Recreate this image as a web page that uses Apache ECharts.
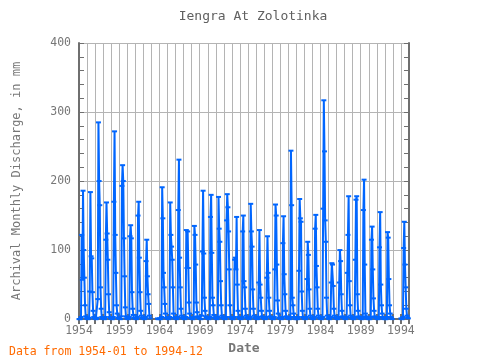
<!DOCTYPE html>
<html>
<head>
<meta charset="utf-8">
<script src="https://cdn.jsdelivr.net/npm/echarts@6/dist/echarts.min.js"></script>
<style>html,body{margin:0;padding:0;background:#fff}#c{width:480px;height:360px}</style>
</head>
<body>
<div id="c"></div>
<script>
// Monthly discharge (mm), Jan..Dec for each year; null = missing
const years = [1954,1955,1956,1957,1958,1959,1960,1961,1962,1963,1964,1965,1966,1967,1968,1969,1970,1971,1972,1973,1974,1975,1976,1977,1978,1979,1980,1981,1982,1983,1984,1985,1986,1987,1988,1989,1990,1991,1992,1993,1994];
const v1954_1963 = [
  [0,0,0,3,122,57,186,100,60,20,4,1],
  [1,0,0,2,40,184,91,88,39,12,3,1],
  [1,0,0,2,29,285,200,165,46,15,3,1],
  [1,0,0,3,115,169,124,86,36,10,3,1],
  [1,0,0,3,170,272,122,67,20,8,2,1],
  [1,0,0,4,193,223,200,117,62,17,4,1],
  [1,0,0,3,120,136,117,39,15,6,2,1],
  [1,0,0,3,150,170,89,39,12,5,2,1],
  [1,0,0,3,84,115,62,36,22,5,1,null],
  [null,null,null,null,null,null,null,null,null,1,0,0]
];
const v1964_1973 = [
  [1,0,0,3,191,146,67,46,22,8,2,1],
  [1,0,0,3,169,122,105,86,46,8,2,1],
  [1,0,0,3,158,231,89,46,15,5,2,1],
  [1,0,0,3,129,74,127,74,24,8,2,1],
  [1,0,0,3,135,122,79,24,10,4,2,1],
  [1,0,0,5,98,186,95,31,12,4,2,1],
  [1,0,0,3,148,180,96,31,20,6,2,1],
  [1,0,0,3,177,131,112,55,20,5,2,1],
  [1,0,0,3,143,181,162,127,72,20,3,1],
  [1,0,0,3,86,89,72,148,50,12,3,1]
];
const v1974_1983 = [
  [1,0,0,3,127,150,55,46,15,5,2,1],
  [1,0,0,3,167,127,105,43,15,5,2,1],
  [1,0,0,3,53,129,50,31,12,4,2,1],
  [1,0,0,3,60,120,67,31,12,4,2,1],
  [1,0,0,3,72,166,150,79,27,8,2,1],
  [1,0,0,3,110,149,65,36,12,4,2,1],
  [1,0,0,3,244,165,31,20,8,3,1,0],
  [1,0,0,3,70,174,146,141,40,12,3,1],
  [1,0,0,3,58,112,93,43,15,5,2,1],
  [1,0,0,3,131,151,77,46,15,5,2,1]
];
const v1984_1994 = [
  [1,0,0,3,160,317,243,143,112,31,5,1],
  [1,0,0,3,53,81,79,48,15,5,2,1],
  [1,0,0,3,53,100,84,36,12,4,2,1],
  [1,0,0,3,67,122,178,55,20,5,2,1],
  [1,0,0,3,86,173,178,36,12,4,2,1],
  [1,0,0,3,158,202,79,8,4,2,1,0],
  [1,0,0,3,115,134,72,30,12,4,2,1],
  [1,0,0,3,104,155,50,20,8,3,1,0],
  [1,0,0,3,126,118,58,20,8,3,1,0],
  [null,null,null,null,null,null,null,null,null,null,null,null],
  [1,0,0,3,103,141,79,46,15,5,2,1]
];
const xTickLabels = ['1954','1959','1964','1969','1974','1979','1984','1989','1994'];
const yTickLabels = ['0','100','200','300','400'];

const allYears = v1954_1963.concat(v1964_1973, v1974_1983, v1984_1994);
const seriesData = [];
allYears.forEach((row, i) => {
  row.forEach((v, m) => {
    seriesData.push([years[i] + m / 12, v]);
  });
});

const font = 'DejaVu Sans Mono';
const axisGray = '#6f6f6f';
const gridGray = '#b4b4b4';
const textGray = '#777777';

const chart = echarts.init(document.getElementById('c'), null, {renderer: 'canvas'});
chart.setOption({
  animation: false,
  backgroundColor: '#ffffff',
  title: [
    {text: 'Iengra At Zolotinka', left: 248, top: 5, textAlign: 'center',
     textStyle: {fontFamily: font, fontSize: 13, fontWeight: 'normal', color: '#606060'}},
    {text: 'Data from 1954-01 to 1994-12', left: 4, top: 341,
     textStyle: {fontFamily: font, fontSize: 11.5, fontWeight: 'normal', color: '#ff6a00'}}
  ],
  grid: {left: 79, right: 71, top: 43, bottom: 38, containLabel: false},
  xAxis: [
    {type: 'value', min: 1954, max: 1995, interval: 1, position: 'bottom',
     name: 'Date', nameLocation: 'middle', nameGap: 20,
     nameTextStyle: {fontFamily: font, fontSize: 13, fontWeight: 'bold', color: textGray},
     axisLine: {lineStyle: {color: axisGray, width: 2}},
     axisTick: {inside: true, length: 5, lineStyle: {color: axisGray, width: 2}},
     axisLabel: {fontFamily: font, fontSize: 11.5, color: textGray, margin: 6,
       formatter: v => xTickLabels.indexOf(String(Math.round(v))) >= 0 && Math.abs(v - Math.round(v)) < 1e-6 ? String(Math.round(v)) : ''},
     splitLine: {show: true, lineStyle: {color: gridGray, width: 1}}},
    {type: 'value', min: 1954, max: 1995, interval: 1, position: 'top',
     axisLine: {lineStyle: {color: axisGray, width: 2}},
     axisTick: {inside: true, length: 5, lineStyle: {color: axisGray, width: 2}},
     axisLabel: {show: false}, splitLine: {show: false}}
  ],
  yAxis: [
    {type: 'value', min: 0, max: 400, interval: 100, position: 'left',
     name: 'Archival Monthly Discharge, in mm', nameLocation: 'middle', nameGap: 56, nameRotate: 90,
     nameTextStyle: {fontFamily: font, fontSize: 12, color: textGray},
     axisLine: {show: true, lineStyle: {color: axisGray, width: 2}},
     axisTick: {show: true, inside: true, length: 5, lineStyle: {color: axisGray, width: 1}},
     minorTick: {show: true, splitNumber: 5, length: 5, lineStyle: {color: axisGray, width: 1}},
     axisLabel: {fontFamily: font, fontSize: 11.5, color: textGray, margin: 8,
       formatter: v => yTickLabels.indexOf(String(v)) >= 0 ? String(v) : ''},
     splitLine: {show: true, lineStyle: {color: gridGray, width: 1}}},
    {type: 'value', min: 0, max: 400, interval: 100, position: 'right',
     axisLine: {show: true, lineStyle: {color: axisGray, width: 2}},
     axisTick: {show: true, inside: true, length: 5, lineStyle: {color: axisGray, width: 1}},
     minorTick: {show: true, splitNumber: 5, length: 5, lineStyle: {color: axisGray, width: 1}},
     axisLabel: {show: false}, splitLine: {show: false}}
  ],
  series: [{
    type: 'line', xAxisIndex: 0, yAxisIndex: 0, data: seriesData,
    connectNulls: false,
    symbol: 'rect', symbolSize: [5, 2], showSymbol: true,
    itemStyle: {color: '#0066ff'},
    lineStyle: {color: '#0066ff', width: 2},
    z: 5
  }]
});
</script>
</body>
</html>
